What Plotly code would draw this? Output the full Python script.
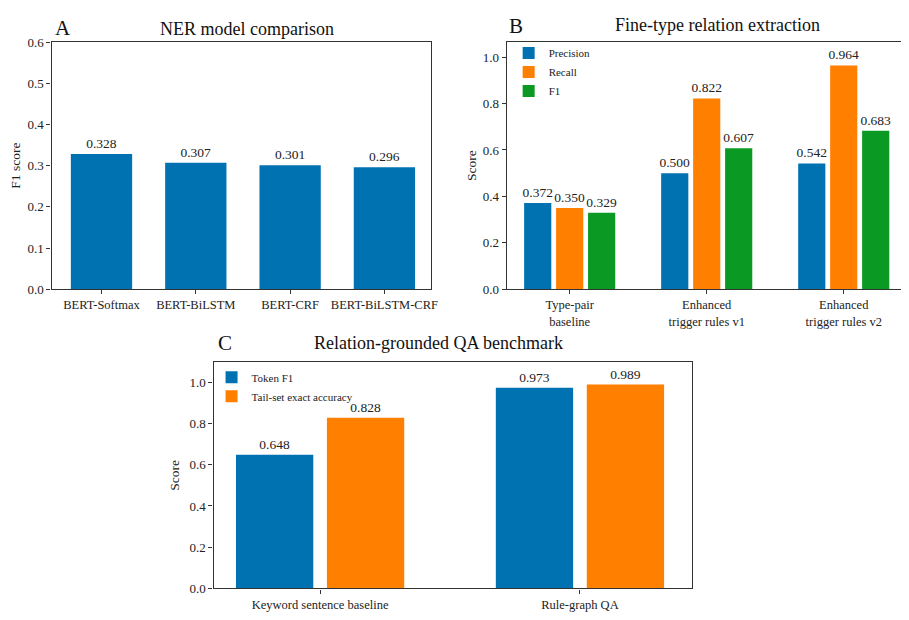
import plotly.graph_objects as go

W, H = 909, 620
# empirical mapping between figure pixels and the photographed page
XOFF, XSCALE = 7.5, 0.992
YOFF, YSCALE = 15, 0.975
FONT = "Liberation Serif, Times New Roman, Times, serif"
BLUE = "#0072B2"
ORANGE = "#FF7F00"
GREEN = "#0A9A23"

# Panel A data
ner_models = ["BERT-Softmax", "BERT-BiLSTM", "BERT-CRF", "BERT-BiLSTM-CRF"]
ner_f1 = [0.328, 0.307, 0.301, 0.296]

# Panel B data
re_groups = ["Type-pair<br>baseline", "Enhanced<br>trigger rules v1", "Enhanced<br>trigger rules v2"]
re_precision = [0.372, 0.500, 0.542]
re_recall = [0.350, 0.822, 0.964]
re_f1 = [0.329, 0.607, 0.683]

# Panel C data
qa_groups = ["Keyword sentence baseline", "Rule-graph QA"]
qa_token_f1 = [0.648, 0.973]
qa_tail_acc = [0.828, 0.989]


def X(r):
    return min(max(((r - XOFF) / XSCALE) / W, 0), 1)


def Y(r):
    return min(max(1 - ((r - YOFF) / YSCALE) / H, 0), 1)


def px_x(a, b):
    return [X(a), X(b)]


def px_y(top, bottom):
    return [Y(bottom), Y(top)]


def bar(x, y, color, name, xa, ya, group, legend="legend", showlegend=False, width=None):
    return go.Bar(
        x=x, y=y, name=name, marker=dict(color=color, line=dict(width=0)),
        xaxis=xa, yaxis=ya, width=width,
        text=[f"{v:.3f}" for v in y], textposition="outside",
        textfont=dict(family=FONT, size=13.5, color="#222"),
        constraintext="none", cliponaxis=False,
        showlegend=showlegend, legend=legend,
        offsetgroup=group,
    )


fig = go.Figure()

# A
fig.add_trace(bar(ner_models, ner_f1, BLUE, "F1 score", "x", "y", "a", width=0.65))
# B
fig.add_trace(bar(re_groups, re_precision, BLUE, "Precision", "x2", "y2", "b1", "legend", True))
fig.add_trace(bar(re_groups, re_recall, ORANGE, "Recall", "x2", "y2", "b2", "legend", True))
fig.add_trace(bar(re_groups, re_f1, GREEN, "F1", "x2", "y2", "b3", "legend", True))
# C
fig.add_trace(bar(qa_groups, qa_token_f1, BLUE, "Token F1", "x3", "y3", "c1", "legend2", True))
fig.add_trace(bar(qa_groups, qa_tail_acc, ORANGE, "Tail-set exact accuracy", "x3", "y3", "c2", "legend2", True))

axis_common = dict(
    showline=True, linecolor="#333", linewidth=1.2, mirror=True,
    ticks="outside", ticklen=4, tickcolor="#333", showgrid=False, zeroline=False,
    tickfont=dict(family=FONT, size=13, color="#222"),
)
xfont = dict(family=FONT, size=12.5, color="#222")
ytitle_font = dict(family=FONT, size=13.5, color="#222")

fig.update_layout(
    width=W, height=H,
    margin=dict(l=0, r=0, t=0, b=0),
    paper_bgcolor="white", plot_bgcolor="white",
    barmode="group", bargap=0.3, bargroupgap=0.15,
    font=dict(family=FONT, color="#222"),
    xaxis=dict(domain=px_x(51, 430), anchor="y", range=[-0.53, 3.49], **axis_common),
    yaxis=dict(domain=px_y(42, 289), anchor="x", range=[0, 0.6], dtick=0.1, tickformat=".1f",
               title=dict(text="F1 score", font=ytitle_font, standoff=8), **axis_common),
    xaxis2=dict(domain=px_x(506, 906), anchor="y2", range=[-0.46, 2.46], **axis_common),
    yaxis2=dict(domain=px_y(42, 289), anchor="x2", range=[0, 1.065], dtick=0.2, tickformat=".1f",
                title=dict(text="Score", font=ytitle_font, standoff=2), **axis_common),
    xaxis3=dict(domain=px_x(213, 691), anchor="y3", range=[-0.41, 1.43], **axis_common),
    yaxis3=dict(domain=px_y(362, 588), anchor="x3", range=[0, 1.097], dtick=0.2, tickformat=".1f",
                title=dict(text="Score", font=ytitle_font, standoff=6), **axis_common),
    legend=dict(x=X(508), y=Y(38.5), xanchor="left", yanchor="top",
                font=dict(family=FONT, size=11, color="#222"), bgcolor="rgba(0,0,0,0)",
                itemwidth=30, tracegroupgap=0),
    legend2=dict(x=X(211), y=Y(362.5), xanchor="left", yanchor="top",
                 font=dict(family=FONT, size=11, color="#222"), bgcolor="rgba(0,0,0,0)",
                 itemwidth=30, tracegroupgap=0),
)
fig.update_xaxes(tickfont=xfont)

annots = [
    ("NER model comparison", 246, 29, 18),
    ("A", 62, 28, 21),
    ("Fine-type relation extraction", 717, 25, 18),
    ("B", 515, 26, 21),
    ("Relation-grounded QA benchmark", 438, 343, 18),
    ("C", 224, 343, 21),
]
for txt, x, y, s in annots:
    fig.add_annotation(text=txt, x=X(x), y=Y(y), xref="paper", yref="paper",
                       showarrow=False, xanchor="center", yanchor="middle",
                       font=dict(family=FONT, size=s, color="#111"))

fig.write_html("out.html")
